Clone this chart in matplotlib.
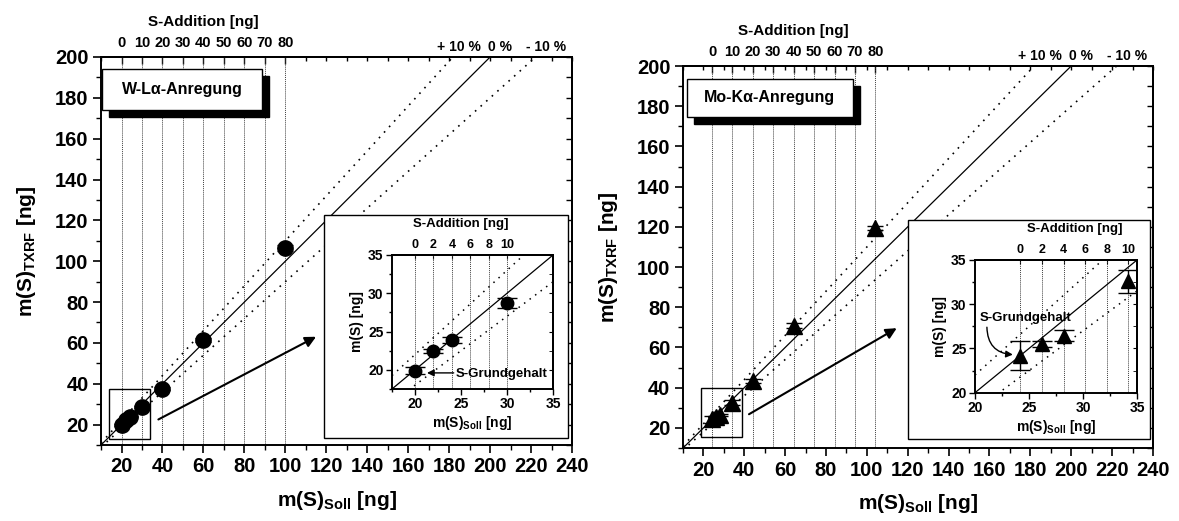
import matplotlib.pyplot as plt
from matplotlib.patches import Rectangle
from matplotlib.ticker import MultipleLocator
import numpy as np

plt.rcParams['font.family'] = ['Liberation Sans', 'DejaVu Sans']
plt.rcParams['font.weight'] = 'bold'
plt.rcParams['axes.labelweight'] = 'bold'
plt.rcParams['mathtext.fontset'] = 'custom'
plt.rcParams['mathtext.rm'] = 'Liberation Sans:bold'
plt.rcParams['mathtext.it'] = 'Liberation Sans:bold'
plt.rcParams['mathtext.bf'] = 'Liberation Sans:bold'
plt.rcParams['axes.linewidth'] = 1.4

# W-L alpha excitation: nominal vs. measured S mass [ng]
w_soll = [20, 22, 24, 30, 40, 60, 100]
w_txrf = [19.9, 22.45, 23.9, 28.7, 37.5, 61.3, 106.4]
w_err = [0.45, 0.26, 0.37, 0.62, 0.8, 0.9, 1.3]
w_base = 20.0

# Mo-K alpha excitation
mo_soll = [24.2, 26.2, 28.2, 34.2, 44.2, 64.2, 104.2]
mo_txrf = [24.2, 25.5, 26.45, 32.6, 43.2, 70.8, 119.5]
mo_err = [1.6, 0.3, 0.65, 1.3, 1.0, 1.2, 1.0]
mo_base = 24.2

add_main = [0, 10, 20, 30, 40, 50, 60, 70, 80]
add_inset = [0, 2, 4, 6, 8, 10]
inset_n = 4  # first four points go into the zoomed view

fig = plt.figure(figsize=(11.79, 5.21), dpi=100)


def ref_lines(ax, x0, x1, lw_dot=1.2):
    xs = np.array([x0, x1])
    ax.plot(xs, xs, 'k-', lw=0.9, zorder=2)
    ax.plot(xs, 1.1 * xs, color='k', ls=(0, (1, 3.5)), lw=lw_dot, zorder=2)
    ax.plot(xs, 0.9 * xs, color='k', ls=(0, (1, 3.5)), lw=lw_dot, zorder=2)


def panel(rect, inset_rect, box_rect, soll, txrf, err, base, marker, ms,
          title, hl, arrow, note):
    ax = fig.add_axes(rect)
    ax.set_xlim(10, 240)
    ax.set_ylim(10, 200)
    ref_lines(ax, 10, 240)
    for a in add_main:
        ax.axvline(base + a, color='0.25', ls=(0, (1, 1)), lw=0.7, zorder=1)
    ax.errorbar(soll, txrf, yerr=err, fmt=marker, color='k', ms=ms,
                capsize=6, elinewidth=1, capthick=1, zorder=5)

    ax.set_xticks(range(20, 241, 20))
    ax.set_yticks(range(20, 201, 20))
    ax.xaxis.set_minor_locator(MultipleLocator(10))
    ax.yaxis.set_minor_locator(MultipleLocator(10))
    ax.tick_params(which='major', direction='out', length=6, width=1.2,
                   labelsize=14.5, pad=3)
    ax.tick_params(which='minor', direction='out', length=3.5, width=1.0)
    ax.set_xlabel(r'm(S)$_{\mathrm{Soll}}$ [ng]', fontsize=15, labelpad=9)
    ax.set_ylabel(r'm(S)$_{\mathrm{TXRF}}$ [ng]', fontsize=15, labelpad=12)

    right = ax.secondary_yaxis('right')
    right.set_yticks(range(20, 201, 20))
    right.yaxis.set_minor_locator(MultipleLocator(10))
    right.tick_params(which='both', direction='in', labelright=False,
                      length=4, width=1.0)

    top = ax.secondary_xaxis('top')
    top.set_xticks([base + a for a in add_main],
                   labels=[str(a) for a in add_main])
    top.xaxis.set_minor_locator(MultipleLocator(10))
    top.tick_params(which='major', direction='in', length=5, width=1.0,
                    labelsize=10.5, pad=5)
    top.tick_params(which='minor', direction='in', length=3, width=1.0)
    ax.annotate('S-Addition [ng]', xy=(base + 40, 1),
                xycoords=('data', 'axes fraction'), xytext=(0, 25),
                textcoords='offset points', ha='center', va='center',
                fontsize=11)

    for lbl, xpos in [('+ 10 %', 200 / 1.1 + 3), ('0 %', 205),
                      ('- 10 %', 200 / 0.9 + 5)]:
        ax.annotate(lbl, xy=(xpos, 1), xycoords=('data', 'axes fraction'),
                    xytext=(0, 7), textcoords='offset points',
                    ha='center', va='center', fontsize=10)

    # label box with drop shadow
    bx, by, bw, bh = box_rect
    ax.add_patch(Rectangle((bx + 0.015, by - 0.018), bw, bh,
                           transform=ax.transAxes, facecolor='k',
                           edgecolor='k', zorder=6))
    ax.add_patch(Rectangle((bx, by), bw, bh, transform=ax.transAxes,
                           facecolor='white', edgecolor='k', lw=1, zorder=7))
    ax.text(bx + bw / 2, by + bh / 2, title, transform=ax.transAxes,
            ha='center', va='center', fontsize=11.5, zorder=8)

    # zoom region and pointer to inset
    ax.add_patch(Rectangle((hl[0], hl[1]), hl[2], hl[3], fill=False,
                           edgecolor='k', lw=1, zorder=4))
    ax.annotate('', xy=arrow[1], xytext=arrow[0],
                arrowprops=dict(arrowstyle='-|>', color='k', lw=1.5,
                                mutation_scale=16, shrinkA=0, shrinkB=0),
                zorder=4)

    # inset frame and axes
    fr = inset_rect['frame']
    fig.add_artist(Rectangle((fr[0], fr[1]), fr[2], fr[3],
                             transform=fig.transFigure, facecolor='white',
                             edgecolor='k', lw=1, zorder=2))
    iax = fig.add_axes(inset_rect['axes'], zorder=3)
    lo, hi = inset_rect['lim']
    iax.set_xlim(lo, hi)
    iax.set_ylim(lo, hi)
    ref_lines(iax, lo, hi, lw_dot=1.1)
    for a in add_inset:
        iax.axvline(base + a, color='0.25', ls=(0, (1, 1)), lw=0.7, zorder=1)
    iax.errorbar(soll[:inset_n], txrf[:inset_n], yerr=err[:inset_n],
                 fmt=marker, color='k', ms=ms - 2, capsize=7,
                 elinewidth=1, capthick=1, zorder=5)
    iax.set_xticks([20, 25, 30, 35])
    iax.set_yticks([20, 25, 30, 35])
    iax.xaxis.set_minor_locator(MultipleLocator(2.5))
    iax.yaxis.set_minor_locator(MultipleLocator(2.5))
    iax.tick_params(which='major', direction='out', length=4, width=1.0,
                    labelsize=10, pad=2)
    iax.tick_params(which='minor', direction='out', length=2.5, width=1.0)
    iax.set_xlabel(r'm(S)$_{\mathrm{Soll}}$ [ng]', fontsize=10, labelpad=2)
    iax.set_ylabel('m(S) [ng]', fontsize=10, labelpad=3)
    ir = iax.secondary_yaxis('right')
    ir.set_yticks([20, 25, 30, 35])
    ir.yaxis.set_minor_locator(MultipleLocator(2.5))
    ir.tick_params(which='both', direction='in', labelright=False, length=3)
    it = iax.secondary_xaxis('top')
    it.set_xticks([base + a for a in add_inset],
                  labels=[str(a) for a in add_inset])
    it.tick_params(direction='in', length=3, labelsize=9, pad=3)
    iax.annotate('S-Addition [ng]', xy=(base + 5, 1),
                 xycoords=('data', 'axes fraction'), xytext=(0, 22),
                 textcoords='offset points', ha='center', va='center',
                 fontsize=9.5)

    iax.text(note['text'][0], note['text'][1], 'S-Grundgehalt',
             fontsize=9.5, ha='left', va='center', zorder=6)
    iax.annotate('', xy=note['tip'], xytext=note['tail'],
                 arrowprops=dict(arrowstyle='-|>', color='k', lw=1,
                                 mutation_scale=10, shrinkA=0, shrinkB=0,
                                 connectionstyle=note['conn']),
                 zorder=6)
    return ax, iax


panel([0.0857, 0.1459, 0.3995, 0.7447],
      {'axes': [0.3325, 0.2534, 0.1366, 0.2572],
       'frame': [0.2748, 0.1593, 0.2070, 0.4280],
       'lim': (17.5, 35)},
      (0.002, 0.863, 0.340, 0.106),
      w_soll, w_txrf, w_err, w_base, 'o', 11, 'W-L\u03b1-Anregung',
      (14, 13, 20, 24.5), ((38, 22.5), (115, 63)),
      {'text': (24.4, 19.5), 'tail': (24.2, 19.6), 'tip': (21.3, 19.6),
       'conn': 'arc3,rad=0'})

panel([0.5793, 0.1401, 0.3986, 0.7332],
      {'axes': [0.8270, 0.2463, 0.1374, 0.2547],
       'frame': [0.7701, 0.1574, 0.2053, 0.4203],
       'lim': (20, 35)},
      (0.0085, 0.8665, 0.353, 0.100),
      mo_soll, mo_txrf, mo_err, mo_base, '^', 12, 'Mo-K\u03b1-Anregung',
      (19, 15.5, 20, 24.5), ((42.3, 26.8), (114.6, 69.6)),
      {'text': (20.4, 28.4), 'tail': (21.1, 27.4), 'tip': (23.5, 24.3),
       'conn': 'arc3,rad=0.45'})

fig.savefig('out.png', dpi=100)
